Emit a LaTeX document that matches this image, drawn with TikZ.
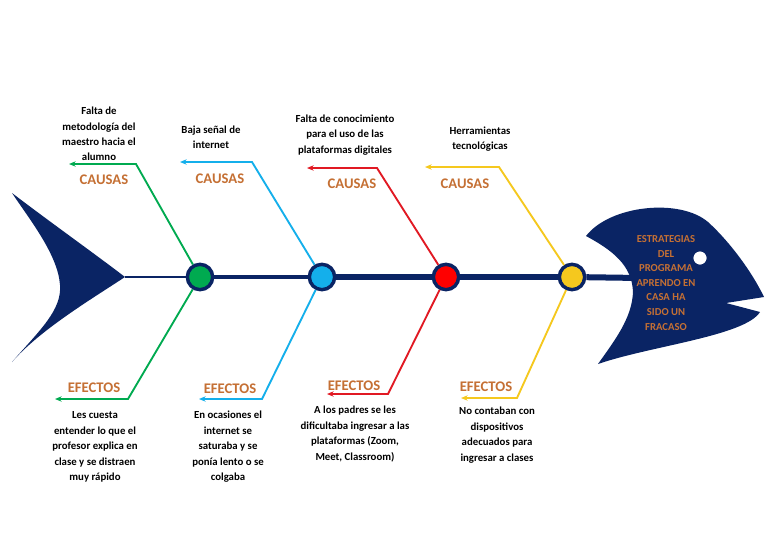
\documentclass[tikz,border=0pt]{standalone}
\usepackage{fontspec}
\setmainfont{Carlito}
\usetikzlibrary{arrows.meta, positioning}

\definecolor{fishnavy}{RGB}{10,36,100}
\definecolor{tagbrown}{RGB}{197,112,52}
\definecolor{bonegreen}{RGB}{0,170,80}
\definecolor{boneblue}{RGB}{20,175,235}
\definecolor{bonered}{RGB}{225,25,35}
\definecolor{boneyellow}{RGB}{245,200,30}

\begin{document}
\begin{tikzpicture}[
    x=0.75pt, y=-0.75pt,
    bone/.style={-{Stealth[length=5pt,width=4pt]}, line width=1.4pt},
    joint/.style={circle, draw=fishnavy, line width=2.6pt, minimum size=19pt, inner sep=0pt},
    tag/.style={font=\bfseries\fontsize{11}{12}\selectfont, text=tagbrown},
    note/.style={align=center, font=\bfseries\fontsize{8.1}{11.6}\selectfont},
    headtext/.style={align=center, text=tagbrown, font=\bfseries\fontsize{8}{10.9}\selectfont}
]
\useasboundingbox (0,0) rectangle (768,543);
\fill[white] (0,0) rectangle (768,543);

% Tail
\fill[fishnavy] (12,193) .. controls (50,222) and (95,254) .. (125,277)
    .. controls (90,300) and (40,330) .. (12,362)
    .. controls (40,330) and (62,310) .. (60,285)
    .. controls (58,255) and (30,220) .. (12,193);

% Joints on the spine
\coordinate (tailtip) at (125,277);
\coordinate (mouth) at (640,278);
\node[joint, fill=bonegreen] (g) at (200,277) {};
\node[joint, fill=boneblue] (b) at (322,277) {};
\node[joint, fill=red] (r) at (446,277) {};
\node[joint, fill=boneyellow] (y) at (572,277) {};

% Spine
\draw[fishnavy, line width=1.5pt] (tailtip) -- (g);
\draw[fishnavy, line width=2.6pt] (g) -- (b);
\draw[fishnavy, line width=3.8pt] (b) -- (r);
\draw[fishnavy, line width=4.5pt] (r) -- (y);
\draw[fishnavy, line width=4.5pt] (y) -- (mouth);

% Head
\fill[fishnavy] (586,236) .. controls (610,205) and (680,198) .. (708,222)
    .. controls (730,242) and (752,272) .. (764,297)
    -- (726,303) -- (760,312)
    .. controls (745,336) and (650,346) .. (598,364)
    .. controls (615,340) and (632,318) .. (633,292)
    .. controls (632,265) and (612,250) .. (586,236);
\node[circle, fill=white, draw=fishnavy, line width=1pt, minimum size=11pt, inner sep=0pt] (eye) at (700,258) {};
\node[headtext] (goal) at (666,283) {ESTRATEGIAS\\DEL\\PROGRAMA\\APRENDO EN\\CASA HA\\SIDO UN\\FRACASO};

% Bone corners and tips
\coordinate (gup) at (136,164);   \coordinate (guptip) at (69,164);
\coordinate (gdown) at (128,399); \coordinate (gdowntip) at (55,399);
\coordinate (bup) at (252,162);   \coordinate (buptip) at (180,162);
\coordinate (bdown) at (262,399); \coordinate (bdowntip) at (199,399);
\coordinate (rup) at (377,168);   \coordinate (ruptip) at (307,168);
\coordinate (rdown) at (388,394); \coordinate (rdowntip) at (327,394);
\coordinate (yup) at (499,167);   \coordinate (yuptip) at (425,167);
\coordinate (ydown) at (517,398); \coordinate (ydowntip) at (461,398);

% Bones
\draw[bone, bonegreen] (g) -- (gup) -- (guptip);
\draw[bone, bonegreen] (g) -- (gdown) -- (gdowntip);
\draw[bone, boneblue] (b) -- (bup) -- (buptip);
\draw[bone, boneblue] (b) -- (bdown) -- (bdowntip);
\draw[bone, bonered] (r) -- (rup) -- (ruptip);
\draw[bone, bonered] (r) -- (rdown) -- (rdowntip);
\draw[bone, boneyellow] (y) -- (yup) -- (yuptip);
\draw[bone, boneyellow] (y) -- (ydown) -- (ydowntip);

% Tags
\node[tag] (gcause) at (104,180) {CAUSAS};
\node[tag] (bcause) at (220,179) {CAUSAS};
\node[tag] (rcause) at (352,184) {CAUSAS};
\node[tag] (ycause) at (465,184) {CAUSAS};
\node[tag] (geffect) at (94,388) {EFECTOS};
\node[tag] (beffect) at (230,389) {EFECTOS};
\node[tag] (reffect) at (354,386) {EFECTOS};
\node[tag] (yeffect) at (486,387) {EFECTOS};

% Causes
\node[note] (gnote) at (99,134) {Falta de\\metodología del\\maestro hacia el\\alumno};
\node[note] (bnote) at (211,137) {Baja señal de\\internet};
\node[note] (rnote) at (345,135) {Falta de conocimiento\\para el uso de las\\plataformas digitales};
\node[note] (ynote) at (480,139) {Herramientas\\tecnológicas};

% Effects
\node[note] (gresult) at (95,447) {Les cuesta\\entender lo que el\\profesor explica en\\clase y se distraen\\muy rápido};
\node[note] (bresult) at (228,447) {En ocasiones el\\internet se\\saturaba y se\\ponía lento o se\\colgaba};
\node[note] (rresult) at (355,434) {A los padres se les\\dificultaba ingresar a las\\plataformas (Zoom,\\Meet, Classroom)};
\node[note] (yresult) at (497,435) {No contaban con\\dispositivos\\adecuados para\\ingresar a clases};

\end{tikzpicture}
\end{document}
